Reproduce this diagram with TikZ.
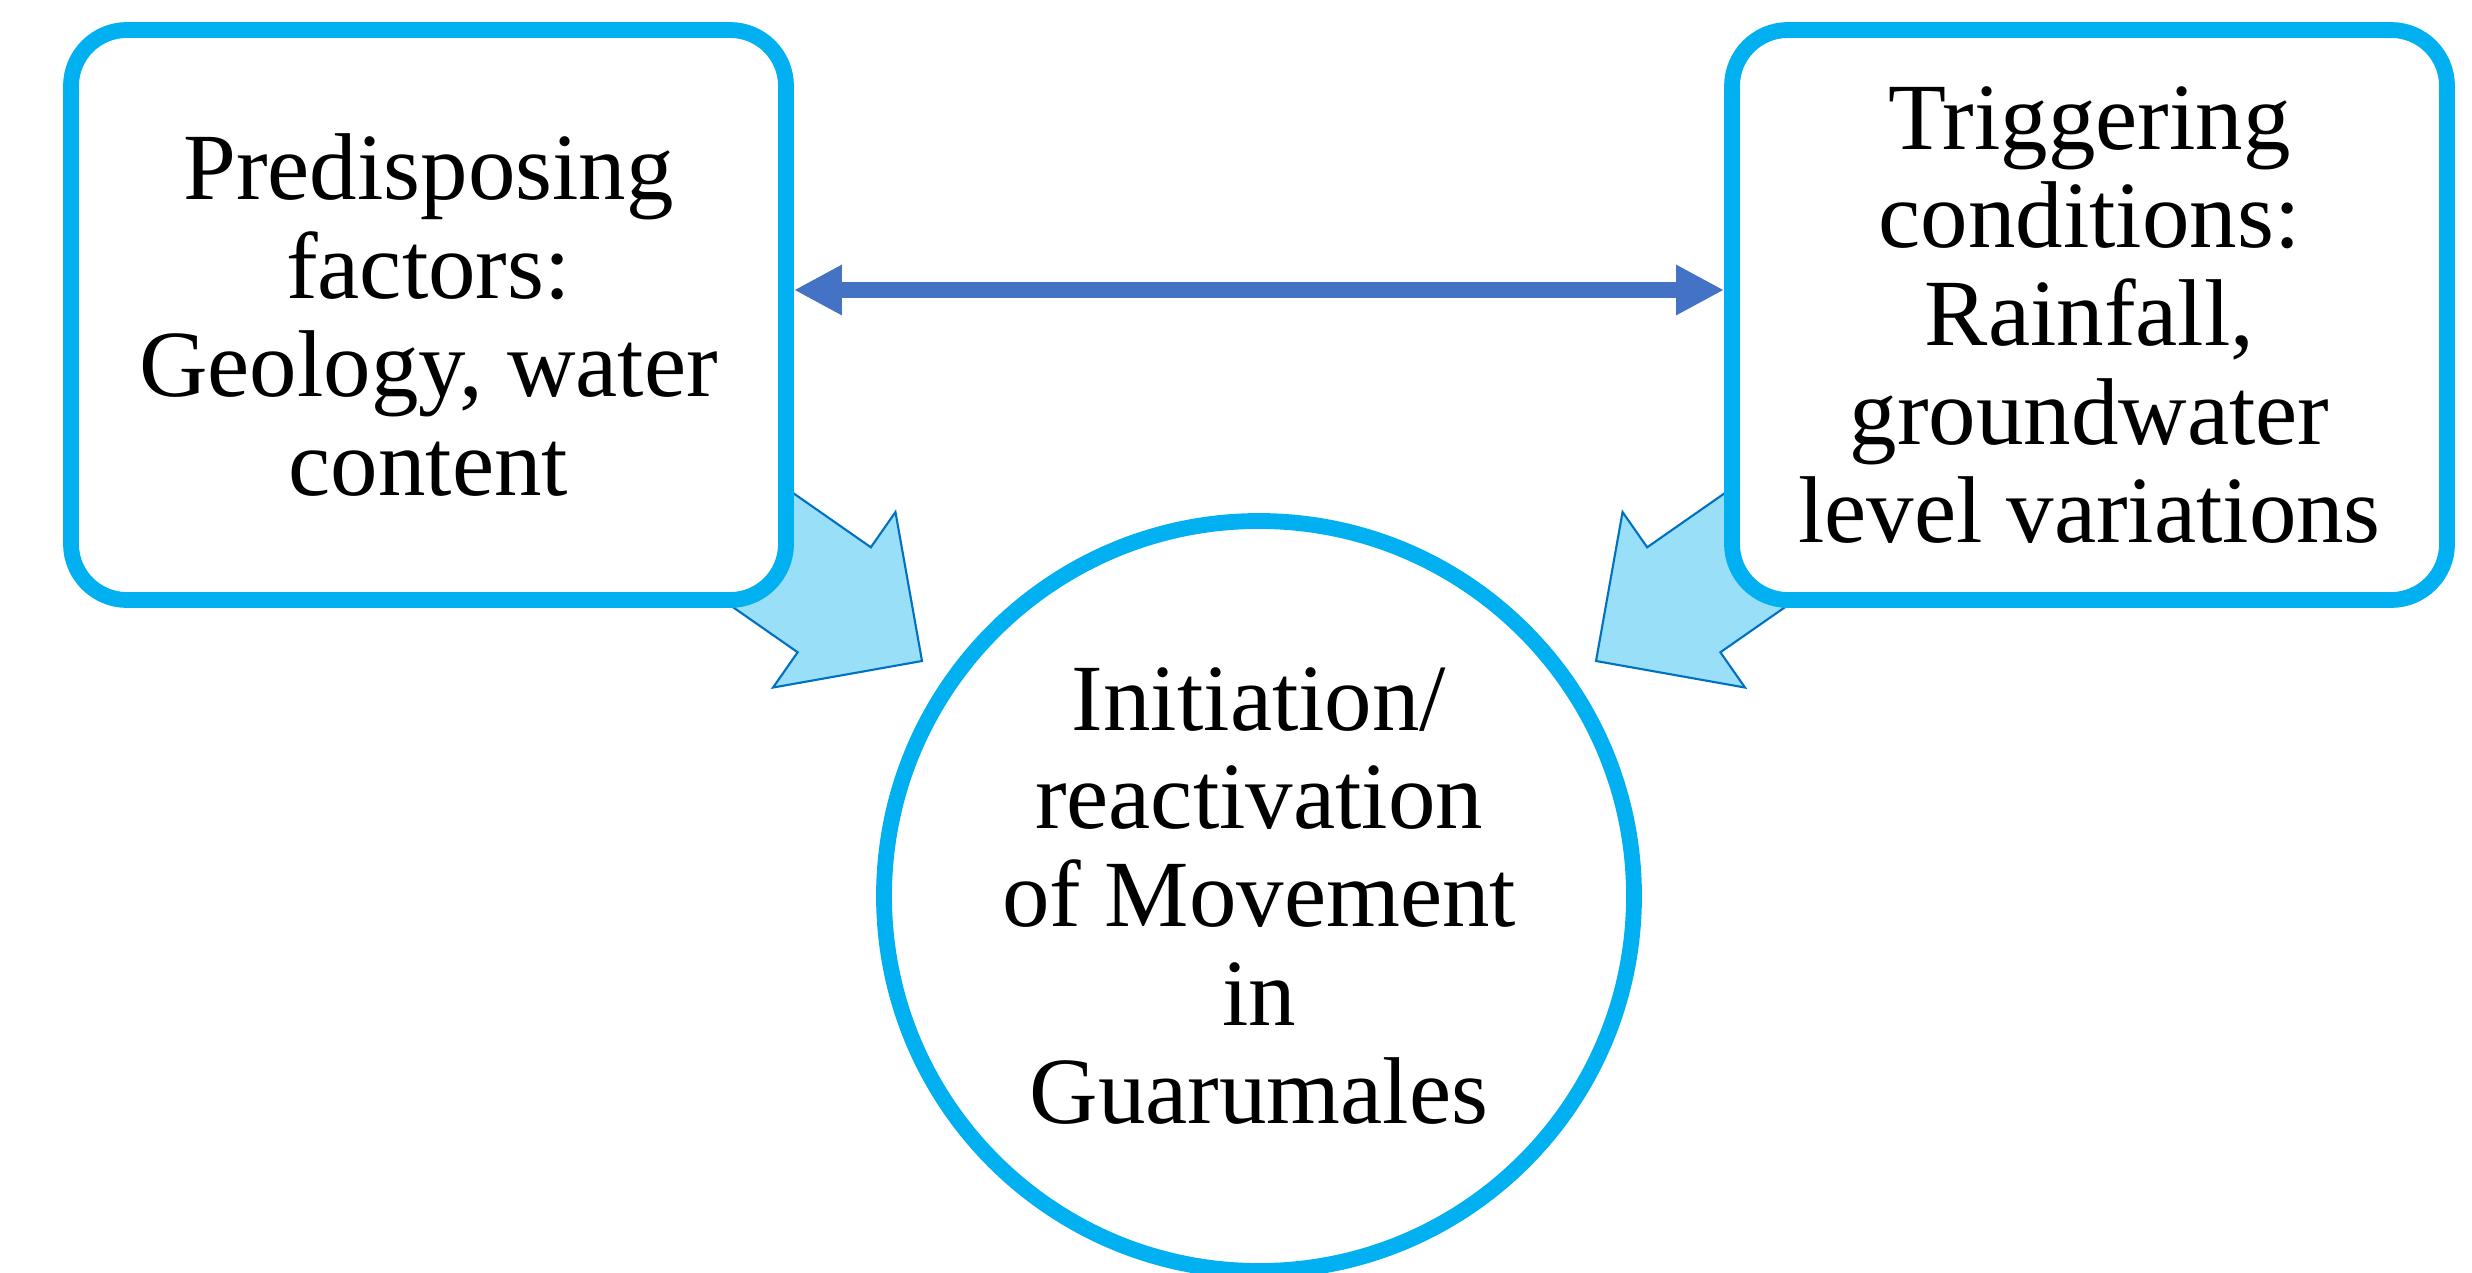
\documentclass[tikz,border=0pt]{standalone}
\usepackage{fontspec}
\setmainfont{Liberation Serif}
\usepackage{tikz}
\usetikzlibrary{arrows.meta,positioning,calc,backgrounds}
\definecolor{boxblue}{HTML}{00B0F0}
\definecolor{linkblue}{HTML}{4472C4}
\definecolor{pushfill}{HTML}{99DFF8}
\definecolor{pushline}{HTML}{0070C0}

\begin{document}
\begin{tikzpicture}[
    font=\fontsize{27}{28}\selectfont,
    frame/.style={draw=boxblue, line width=4.5pt, fill=white, align=center, inner sep=0pt},
    factor/.style={frame, rectangle, rounded corners=5.6mm, minimum width=7.15cm, minimum height=5.7cm},
    result/.style={frame, circle, minimum size=7.5cm},
    push/.style={fill=pushfill, draw=pushline, line width=0.6pt, line join=miter},
    link/.style={linkblue, line width=4.5pt,
                 {Triangle[length=4.8mm,width=4.7mm]}-{Triangle[length=4.8mm,width=4.7mm]}},
    ]
\useasboundingbox (0,0) rectangle (24.72,12.72);

\node[factor] (pred) at (4.285,9.57) {Predisposing\\factors:\\Geology, water\\content};
\node[factor] (trig) at (20.895,9.57) {Triggering\\conditions:\\Rainfall,\\groundwater\\level variations};
\node[result] (init) at (12.59,3.76) {Initiation/\\reactivation\\of Movement\\in\\Guarumales};

\coordinate (tipL) at (9.22,6.11);
\coordinate (tipR) at (15.96,6.11);

% block arrows sit behind the boxes
\begin{scope}[on background layer]
\draw[push, shift={(tipL)}, rotate=-34.9]
    (-2.9,0.64) -- (-1.07,0.64) -- (-1.07,1.07) -- (0,0) -- (-1.07,-1.07) -- (-1.07,-0.64) -- (-2.9,-0.64) -- cycle;
\draw[push, shift={(tipR)}, rotate=214.9]
    (-2.9,0.64) -- (-1.07,0.64) -- (-1.07,1.07) -- (0,0) -- (-1.07,-1.07) -- (-1.07,-0.64) -- (-2.9,-0.64) -- cycle;
\end{scope}

\draw[link] ([yshift=2.5mm]pred.east) -- ([yshift=2.5mm]trig.west);
\end{tikzpicture}
\end{document}
